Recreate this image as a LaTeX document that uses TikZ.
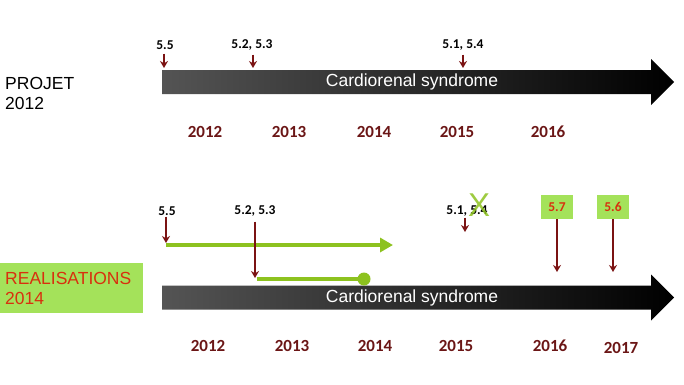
\documentclass[tikz,border=0pt]{standalone}
\usepackage{fontspec}
\setmainfont{Liberation Sans}
\newfontfamily\calib{Carlito}
\usepackage{tikz}
\usetikzlibrary{arrows.meta}
\definecolor{darkred}{HTML}{7B1313}
\definecolor{yearred}{HTML}{6B1616}
\definecolor{limegreen}{HTML}{8DC21F}
\definecolor{boxgreen}{HTML}{A4E25A}
\definecolor{textred}{HTML}{D8300E}

\begin{document}
\begin{tikzpicture}[x=1pt,y=-1pt,
		num/.style={font=\calib\bfseries\fontsize{13.5}{15}\selectfont, inner sep=1pt},
		year/.style={font=\calib\bfseries\fontsize{17}{20}\selectfont, text=yearred},
		tick/.style={draw=darkred, line width=1.7pt, -{Stealth[length=7pt,width=8pt]}},
		greenline/.style={draw=limegreen, line width=4pt},
		synd/.style={text=white, font=\fontsize{17.5}{20}\selectfont},
		side/.style={font=\fontsize{17.5}{20}\selectfont, align=left, inner sep=0pt},
		tag/.style={fill=boxgreen, minimum width=32pt, minimum height=24pt, inner sep=0pt,
			text=textred, font=\calib\bfseries\fontsize{13.5}{15}\selectfont}]
			\useasboundingbox (0,0) rectangle (684,384);
			
			% the two timelines
			\foreach \t/\y in {top/82, bot/297.5}{
				\shade[left color=black!67, right color=black]
					(162,\y-12) -- (651,\y-12) -- (651,\y-23) -- (674,\y)
					-- (651,\y+23) -- (651,\y+12) -- (162,\y+12) -- cycle;
				\node[synd] (\t) at (412,\y) {Cardiorenal syndrome};
			}
			
			\node[side, anchor=west] (projet) at (5,93) {PROJET\\2012};
			\node[side, anchor=west, fill=boxgreen, text=textred, text width=133pt,
				inner xsep=5pt, minimum height=50pt] (real) at (0,288) {REALISATIONS\\2014};
			
			% years
			\foreach \x/\n in {205/2012, 289/2013, 374/2014, 457/2015, 548/2016}
				\node[year] (t\n) at (\x,132) {\n};
			\foreach \x/\y/\n in {208/346/2012, 292/346/2013, 375/346/2014, 456/346/2015, 550/346/2016, 621/348/2017}
				\node[year] (b\n) at (\x,\y) {\n};
			
			% projet
			\node[num] (pA) at (165,45) {5.5};
			\node[num] (pB) at (252,45) {5.2, 5.3};
			\node[num] (pC) at (463,45) {5.1, 5.4};
			\foreach \p/\x in {pA/164, pB/253, pC/463}{
				\coordinate (\p e) at (\x,68);
				\draw[tick] (\p e |- \p.south) ++(0,3) -- (\p e);
			}
			
			% realisations
			\node[num] (rA) at (167,211) {5.5};
			\node[num] (rB) at (255,211) {5.2, 5.3};
			\node[num] (rC) at (467,211) {5.1, 5.4};
			\node[text=limegreen, opacity=0.85, font=\fontsize{33}{33}\selectfont, inner sep=0pt] (cross) at (479,205) {X};
			\node[tag] (g7) at (557,207) {5.7};
			\node[tag] (g6) at (613,207) {5.6};
			
			\coordinate (s1) at (166,245);
			\coordinate (e1) at (393,245);
			\coordinate (s2) at (257,279);
			\coordinate (e2) at (364,279);
			\draw[greenline, -{Triangle[length=13pt,width=14pt]}] (s1) -- (e1);
			\draw[greenline] (s2) -- (e2);
			\fill[limegreen] (e2) circle (6.5);
			
			\coordinate (cE) at (465,232);
			\coordinate (g7e) at (557,272);
			\coordinate (g6e) at (613,272);
			\draw[tick] (s1 |- rA.south) -- ([yshift=2pt]s1);
			\draw[tick] ([xshift=-2pt,yshift=-4pt]s2 |- rB.south) -- ([xshift=-2pt,yshift=1pt]s2);
			\draw[tick] (cE |- rC.south) -- (cE);
			\draw[tick] (g7) ++(0,12) -- (g7e);
			\draw[tick] (g6) ++(0,12) -- (g6e);
		\end{tikzpicture}
\end{document}
